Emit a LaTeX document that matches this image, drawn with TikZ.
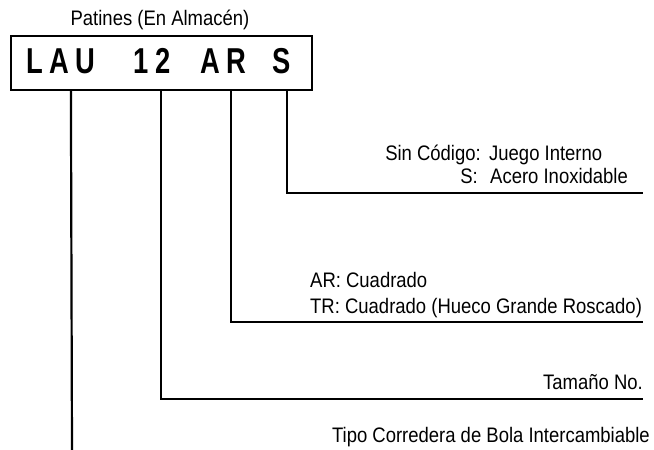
\documentclass[tikz,border=0pt]{standalone}
\usepackage{fontspec}
\setmainfont{Liberation Sans}[FakeStretch=0.88]
\newfontfamily\codefont{Liberation Sans}[FakeStretch=0.76,LetterSpace=17]
\usepackage{tikz}
\usetikzlibrary{positioning}
\tikzset{
  codebox/.style = {rectangle, draw=black, line width=2.2pt, inner sep=0pt,
                    minimum width=301pt, minimum height=54pt},
  codetxt/.style = {inner sep=0pt, anchor=base,
                    font=\codefont\bfseries\fontsize{36}{36}\selectfont},
  lbl/.style     = {inner sep=0pt, font=\fontsize{21}{24}\selectfont},
  lead/.style    = {draw=black, line width=2.2pt},
}

\begin{document}
\begin{tikzpicture}[x=1pt, y=-1pt]
  \useasboundingbox (0,0) rectangle (654,450);

  % code box top
  \node[lbl] (title) at (160,20) {Patines (En Almacén)};
  \node[codebox] (code) at (161.5,63) {};
  \node[codetxt] (lau) at (61,73) {LAU};
  \node[codetxt] (size) at (152,73) {12};
  \node[codetxt] (shape) at (223,73) {AR};
  \node[codetxt] (steel) at (282,73) {S};

  % free ends on the right
  \coordinate (endS) at (643,193);
  \coordinate (endAR) at (643,322);
  \coordinate (endSize) at (643,399);
  \coordinate (endLau) at (72,450);

  % explanations
  \node[lbl, anchor=base east] (sinLbl) at (481,160) {Sin Código:};
  \node[lbl, anchor=base west] (sinVal) at (489,160) {Juego Interno};
  \node[lbl, anchor=base east] (sLbl) at (478,183) {S:};
  \node[lbl, anchor=base west] (sVal) at (490,183) {Acero Inoxidable};
  \node[lbl, anchor=base west] (arTxt) at (310,287) {AR: Cuadrado};
  \node[lbl, anchor=base west] (trTxt) at (310,313) {TR: Cuadrado (Hueco Grande Roscado)};
  \node[lbl, anchor=base east] (sizeTxt) at (643,389) {Tamaño No.};
  \node[lbl, anchor=base east] (lauTxt) at (650,442) {Tipo Corredera de Bola Intercambiable};

  % leaders
  \draw[lead] ([xshift=277pt]code.south west) |- (endS);
  \draw[lead] ([xshift=221pt]code.south west) |- (endAR);
  \draw[lead] ([xshift=151pt]code.south west) |- (endSize);
  \draw[lead] ([xshift=61pt]code.south west) -- (endLau);
\end{tikzpicture}
\end{document}
